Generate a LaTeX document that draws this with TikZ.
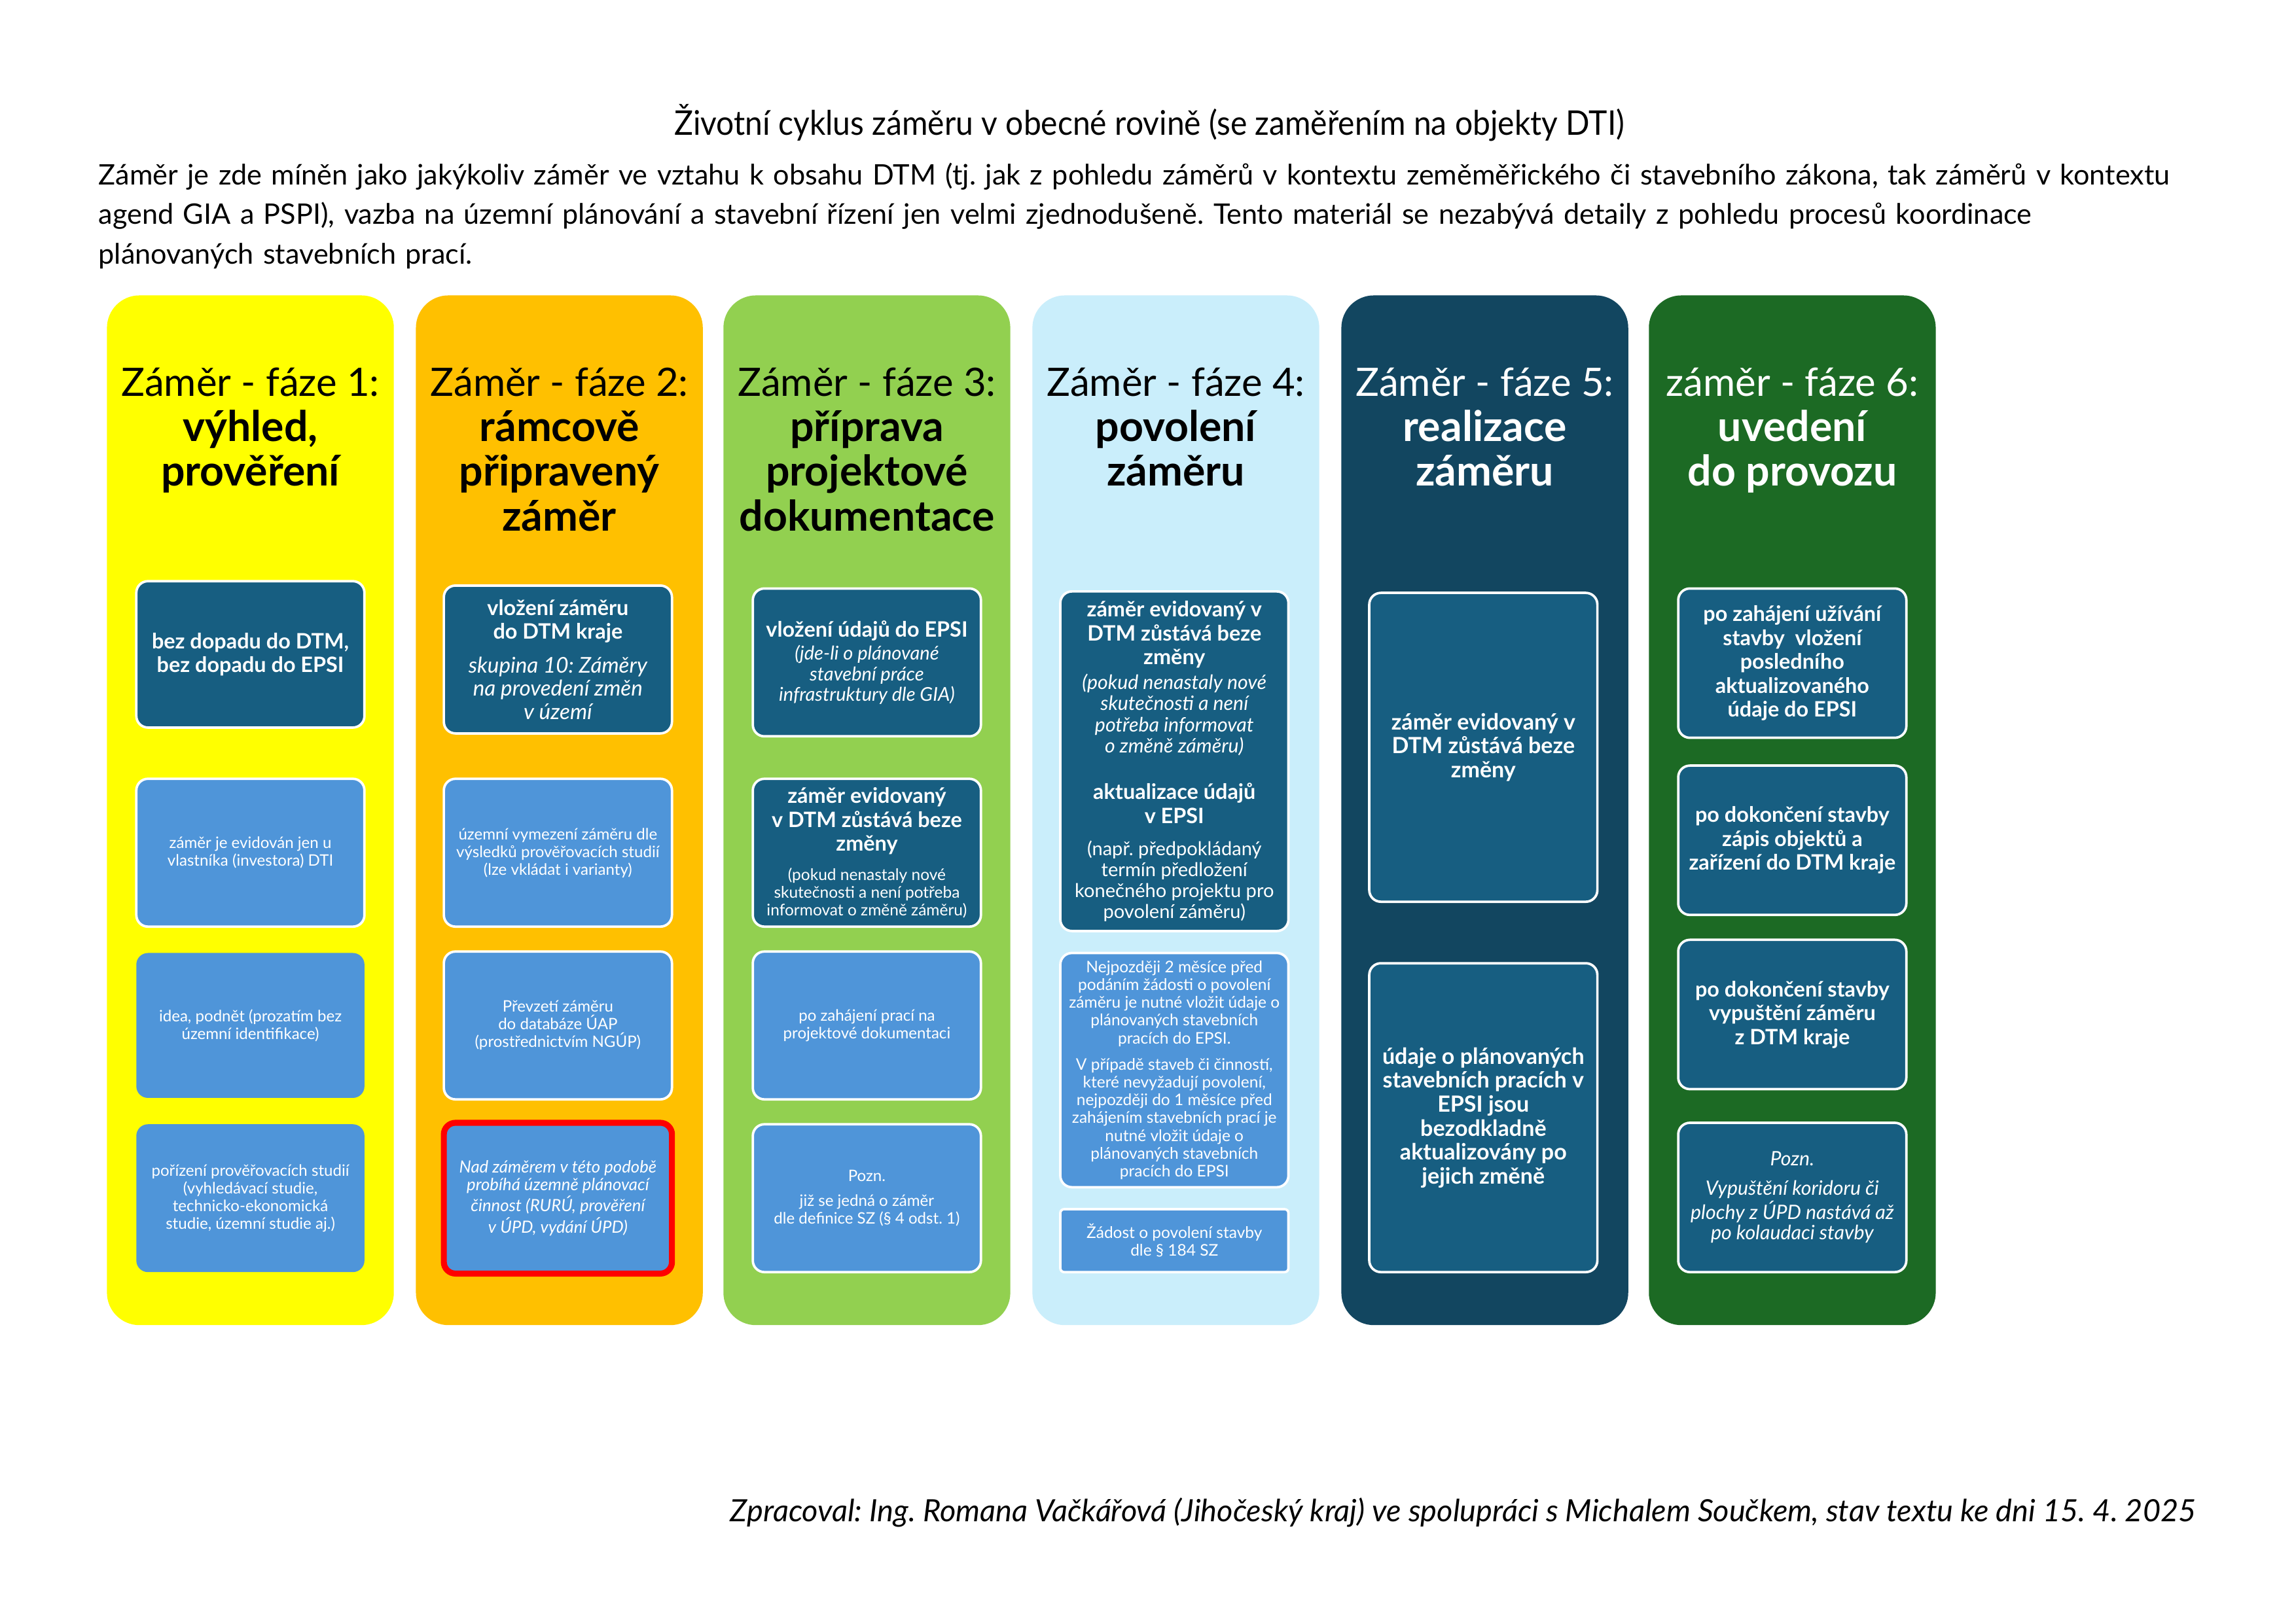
\documentclass[tikz,border=0pt]{standalone}
\usepackage{fontspec}
\setmainfont{Lato}
\usepackage{xcolor}
\frenchspacing

\definecolor{fazeA}{HTML}{FFFF00}
\definecolor{fazeB}{HTML}{FFC000}
\definecolor{fazeC}{HTML}{92D050}
\definecolor{fazeD}{HTML}{CAEEFB}
\definecolor{fazeE}{HTML}{124660}
\definecolor{fazeF}{HTML}{1C6A24}
\definecolor{boxdark}{HTML}{175E81}
\definecolor{boxlight}{HTML}{4F95D9}

\newcommand{\bxb}{\fontsize{7.8}{8.8}\selectfont\bfseries}
\newcommand{\bxs}{\fontsize{5.8}{6.5}\selectfont}
\newcommand{\hdb}{\fontsize{15.5}{16.5}\selectfont\bfseries}

\tikzset{
  faze/.style={rounded corners=0.42cm, minimum width=3.71cm, minimum height=13.32cm, inner sep=0},
  head/.style={anchor=north, text width=3.7cm, align=flush center, inner sep=0,
    font=\fontsize{14.4}{16.5}\selectfont},
  box/.style={rounded corners=0.15cm, minimum width=2.95cm, text width=2.95cm, align=flush center,
    inner sep=0, text=white, draw=white, line width=0.9pt},
  tmava/.style={box, fill=boxdark},
  svetla/.style={box, fill=boxlight},
  vyska/.style={minimum height=#1*0.018941cm}
}

\begin{document}
\begin{tikzpicture}[x=0.018941cm, y=-0.018941cm]
  \fill[white] (0,0) rectangle (1568,1109);
  \useasboundingbox (0,0) rectangle (1568,1109);

  \node[font=\fontsize{12.5}{15}\selectfont\addfontfeature{FakeStretch=0.925}] (nadpis) at (785,84)
    {Životní cyklus záměru v obecné rovině (se zaměřením na objekty DTI)};
  \node[anchor=north west, text width=27.5cm, align=left, inner sep=0,
    font=\fontsize{10.4}{14.5}\selectfont] (popis) at (67,111)
    {Záměr je zde míněn jako jakýkoliv záměr ve vztahu k obsahu DTM (tj. jak z pohledu záměrů v kontextu zeměměřického či stavebního zákona, tak záměrů v kontextu\\
     agend GIA a PSPI), vazba na územní plánování a stavební řízení jen velmi zjednodušeně. Tento materiál se nezabývá detaily z pohledu procesů koordinace\\
     plánovaných stavebních prací.};

  % sloupce faze
  \node[faze, fill=fazeA] (f1) at (171,553.5) {};
  \node[faze, fill=fazeB] (f2) at (382,553.5) {};
  \node[faze, fill=fazeC] (f3) at (592,553.5) {};
  \node[faze, fill=fazeD] (f4) at (803,553.5) {};
  \node[faze, fill=fazeE] (f5) at (1014,553.5) {};
  \node[faze, fill=fazeF] (f6) at (1224,553.5) {};

  \node[head] (h1) at (171,251) {Záměr - fáze 1:\\{\hdb výhled,\\prověření}};
  \node[head] (h2) at (382,251) {Záměr - fáze 2:\\{\hdb rámcově\\připravený\\záměr}};
  \node[head] (h3) at (592,251) {Záměr - fáze 3:\\{\hdb příprava\\projektové\\dokumentace}};
  \node[head] (h4) at (803,251) {Záměr - fáze 4:\\{\hdb povolení\\záměru}};
  \node[head, text=white] (h5) at (1014,251) {Záměr - fáze 5:\\{\hdb realizace\\záměru}};
  \node[head, text=white] (h6) at (1224,251) {záměr - fáze 6:\\{\hdb uvedení\\do provozu}};

  % faze 1
  \node[tmava, vyska=100] (f1a) at (171,447) {\bxb bez dopadu do DTM,\\bez dopadu do EPSI\par};
  \node[svetla, vyska=101] (f1b) at (171,582.5) {\bxs záměr je evidován jen u\\vlastníka (investora) DTI\par};
  \node[svetla, draw=none, vyska=99] (f1c) at (171,700.5) {\bxs idea, podnět (prozatím bez\\územní identifikace)\par};
  \node[svetla, draw=none, vyska=101] (f1d) at (171,818.5)
    {\bxs pořízení prověřovacích studií\\(vyhledávací studie,\\technicko-ekonomická\\studie, územní studie aj.)\par};

  % faze 2
  \node[tmava, vyska=101] (f2a) at (381,450.5)
    {{\bxb vložení záměru\\do DTM kraje\par}\vspace{3.8pt}
     {\fontsize{8}{8.6}\selectfont\itshape skupina 10: Záměry\\na provedení změn\\v území\par}};
  \node[svetla, vyska=101] (f2b) at (381,582.5)
    {\bxs územní vymezení záměru dle\\výsledků prověřovacích studií\\(lze vkládat i varianty)\par};
  \node[svetla, vyska=101] (f2c) at (381,700.5)
    {\bxs Převzetí záměru\\do databáze ÚAP\\(prostřednictvím NGÚP)\par};
  \node[svetla, draw=red, line width=2.2pt, vyska=103] (f2d) at (381,818.5)
    {\fontsize{6.2}{6.5}\selectfont\itshape Nad záměrem v této podobě\\probíhá územně plánovací\\činnost (RURÚ, prověření\\v ÚPD, vydání ÚPD)\par};

  % faze 3
  \node[tmava, vyska=101] (f3a) at (592,452.5)
    {{\bxb vložení údajů do EPSI\par}\vspace{1.1pt}
     {\fontsize{7}{7.5}\selectfont\itshape (jde-li o plánované\\stavební práce\\infrastruktury dle GIA)\par}};
  \node[tmava, vyska=101] (f3b) at (592,582.5)
    {{\bxb záměr evidovaný\\v DTM zůstává beze\\změny\par}\vspace{4.2pt}
     {\fontsize{5.9}{6.5}\selectfont (pokud nenastaly nové\\skutečnosti a není potřeba\\informovat o změně záměru)\par}};
  \node[svetla, vyska=101] (f3c) at (592,700.5) {\bxs po zahájení prací na\\projektové dokumentaci\par};
  \node[svetla, vyska=101] (f3d) at (592,818.5)
    {{\bxs Pozn.\par}\vspace{2.6pt}{\bxs již se jedná o záměr\\dle definice SZ (§ 4 odst. 1)\par}};

  % faze 4
  \node[tmava, vyska=232] (f4a) at (802,520)
    {{\bxb záměr evidovaný v\\DTM zůstává beze\\změny\par}\vspace{1.3pt}
     {\fontsize{7.3}{7.8}\selectfont\itshape (pokud nenastaly nové\\skutečnosti a není\\potřeba informovat\\o změně záměru)\par}\vspace{8.4pt}
     {\bxb aktualizace údajů\\v EPSI\par}\vspace{4.1pt}
     {\fontsize{7}{7.7}\selectfont (např. předpokládaný\\termín předložení\\konečného projektu pro\\povolení záměru)\par}};
  \node[svetla, vyska=160] (f4b) at (802,731)
    {\fontsize{5.9}{6.55}\selectfont Nejpozději 2 měsíce před\\podáním žádosti o povolení\\záměru je nutné vložit údaje o\\plánovaných stavebních\\pracích do EPSI.\par
     \vspace{3.1pt}
     V případě staveb či činností,\\které nevyžadují povolení,\\nejpozději do 1 měsíce před\\zahájením stavebních prací je\\nutné vložit údaje o\\plánovaných stavebních\\pracích do EPSI\par};
  \node[svetla, rounded corners=0.05cm, vyska=43] (f4c) at (802,847.5)
    {\fontsize{5.9}{6.5}\selectfont Žádost o povolení stavby\\dle § 184 SZ\par};

  % faze 5
  \node[tmava, vyska=211] (f5a) at (1013,510.5)
    {\fontsize{8.2}{8.8}\selectfont\bfseries záměr evidovaný v\\DTM zůstává beze\\změny\par};
  \node[tmava, vyska=211] (f5b) at (1013,763.5)
    {\fontsize{8.2}{8.8}\selectfont\bfseries údaje o plánovaných\\stavebních pracích v\\EPSI jsou\\bezodkladně\\aktualizovány po\\jejich změně\par};

  % faze 6
  \node[tmava, vyska=102] (f6a) at (1224,453)
    {\bxb po zahájení užívání\\stavby\ \ vložení\\posledního\\aktualizovaného\\údaje do EPSI\par};
  \node[tmava, vyska=102] (f6b) at (1224,574) {\bxb po dokončení stavby\\zápis objektů a\\zařízení do DTM kraje\par};
  \node[tmava, vyska=102] (f6c) at (1224,693) {\bxb po dokončení stavby\\vypuštění záměru\\z DTM kraje\par};
  \node[tmava, vyska=102] (f6d) at (1224,818)
    {\fontsize{7.3}{7.5}\selectfont\itshape Pozn.\par\vspace{3.2pt}
     Vypuštění koridoru či\\plochy z ÚPD nastává až\\po kolaudaci stavby\par};

  %\draw[red] (0,0) rectangle (1568,1109);
  \node[anchor=east, inner sep=0, font=\fontsize{11.3}{13}\selectfont\itshape] (autor) at (1500,1033)
    {Zpracoval: Ing. Romana Vačkářová (Jihočeský kraj) ve spolupráci s Michalem Součkem, stav textu ke dni 15. 4. 2025};
\end{tikzpicture}
\end{document}
